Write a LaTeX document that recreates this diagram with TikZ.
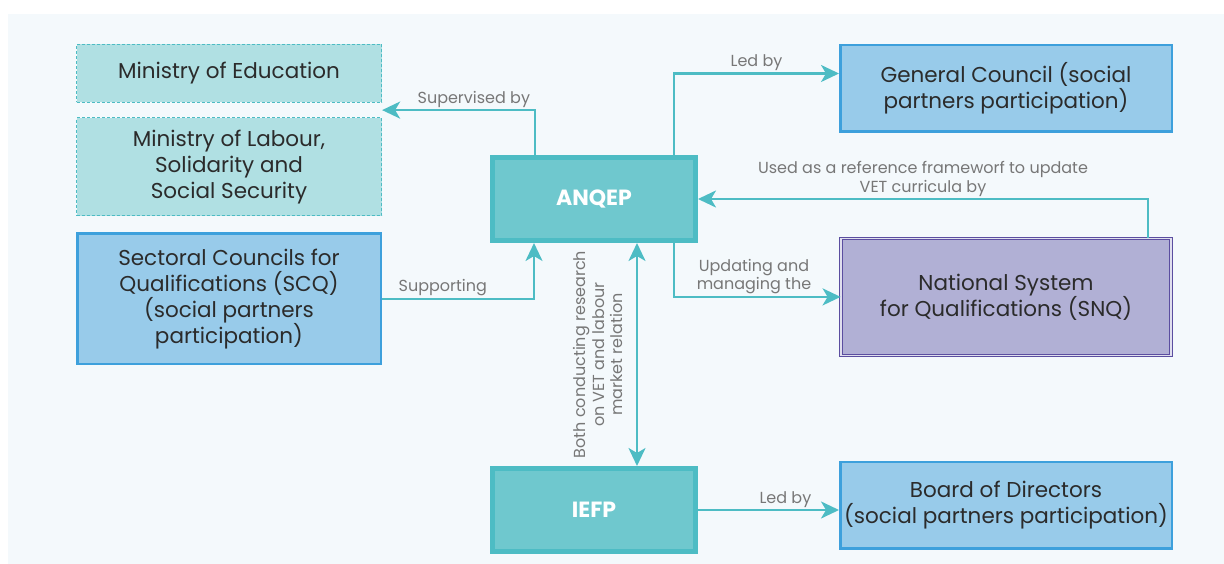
\documentclass[tikz,border=0pt]{standalone}
\usepackage{fontspec}
\setmainfont{Poppins}
\usetikzlibrary{positioning,arrows.meta,calc}
\definecolor{bgcol}{HTML}{F4F9FC}
\definecolor{linecol}{HTML}{4DBCC4}
\definecolor{minfill}{HTML}{B0E0E3}
\definecolor{bluefill}{HTML}{98CBEA}
\definecolor{blueline}{HTML}{3DA0DC}
\definecolor{agencyfill}{HTML}{6FC8CE}
\definecolor{snqfill}{HTML}{B1B0D5}
\definecolor{snqline}{HTML}{5B4EA0}
\definecolor{txtcol}{HTML}{2B2B2B}
\definecolor{lblcol}{HTML}{777777}

\begin{document}
\begin{tikzpicture}
    [x=1pt, y=-1pt, >={Stealth[length=18pt,width=17pt,inset=5pt]},
     every node/.style={text=txtcol, font=\fontsize{21.5}{26}\selectfont, align=center},
     ministry/.style={draw=linecol, dashed, dash pattern=on 3pt off 2pt, line width=1.2pt, fill=minfill, minimum width=305pt},
     council/.style={draw=blueline, line width=2.5pt, fill=bluefill, minimum width=331.5pt},
     agency/.style={draw=linecol, line width=5pt, fill=agencyfill, minimum width=203pt, minimum height=83pt, text=white, font=\fontsize{22}{26}\selectfont\bfseries},
     link/.style={draw=linecol, line width=2.5pt},
     lbl/.style={text=lblcol, font=\fontsize{16}{18.5}\selectfont, inner sep=1.5pt}]

    % background
    \fill[white] (0,0) rectangle (1224,564);
    \fill[bgcol] (8,14) rectangle (1224,564);

    % left column
    \node (minedu) [ministry, minimum height=58pt] at (229,73.5) {Ministry of Education};
    \node (minlab) [ministry, minimum height=98pt, below = 14pt of minedu] {Ministry of Labour,\\Solidarity and\\Social Security};
    \node (scq) [council, minimum width=303.5pt, minimum height=130.5pt, below = 16pt of minlab] {Sectoral Councils for\\Qualifications (SCQ)\\(social partners\\participation)};

    % middle
    \node (anqep) [agency] at (594,199) {ANQEP};
    \node (iefp) [agency, below = 223pt of anqep] {IEFP};

    % right column
    \node (gc) [council, minimum height=86.5pt] at (1006,88.5) {General Council (social\\partners participation)};
    \node (snq) [fill=snqfill, draw=snqline, line width=0.8pt, double=snqfill!40!white, double distance=1.5pt,
                 minimum width=330pt, minimum height=117pt, below = 105pt of gc] {National System\\for Qualifications (SNQ)};
    \node (board) [council, minimum height=86.5pt, below = 105pt of snq] {Board of Directors\\(social partners participation)};

    \draw[link, ->] ([xshift=-59pt]anqep.north) |- ($(minedu.south east)!.5!(minlab.north east)$)
        node[lbl, above, pos=0.7] {Supervised by};
    \draw[link, ->] ([xshift=80pt]anqep.north) |- ([yshift=15pt]gc.west)
        node[lbl, above, pos=0.75] {Led by};
    \draw[link, ->] ([xshift=142pt]snq.north) |- (anqep.east)
        node[lbl, above, pos=0.75] {Used as a reference frameworf to update\\VET curricula by};
    \draw[link, ->] ([xshift=80pt]anqep.south) |- (snq.west)
        node[lbl, above, pos=0.74] {Updating and\\managing the};
    \draw[link, ->] (scq.east) -| ([xshift=-60pt]anqep.south)
        node[lbl, above, pos=0.2] {Supporting};
    \draw[link, <->] ([xshift=43pt]anqep.south) -- ([xshift=43pt]iefp.north);
    \node (research) [lbl, rotate=90] at ($(anqep.south)!.5!(iefp.north) + (4,0)$) {Both conducting research\\on VET and labour\\market relation};
    \draw[link, ->] (iefp.east) -- (iefp.east -| board.west)
        node[lbl, above, pos=0.62] {Led by};

\end{tikzpicture}
\end{document}
